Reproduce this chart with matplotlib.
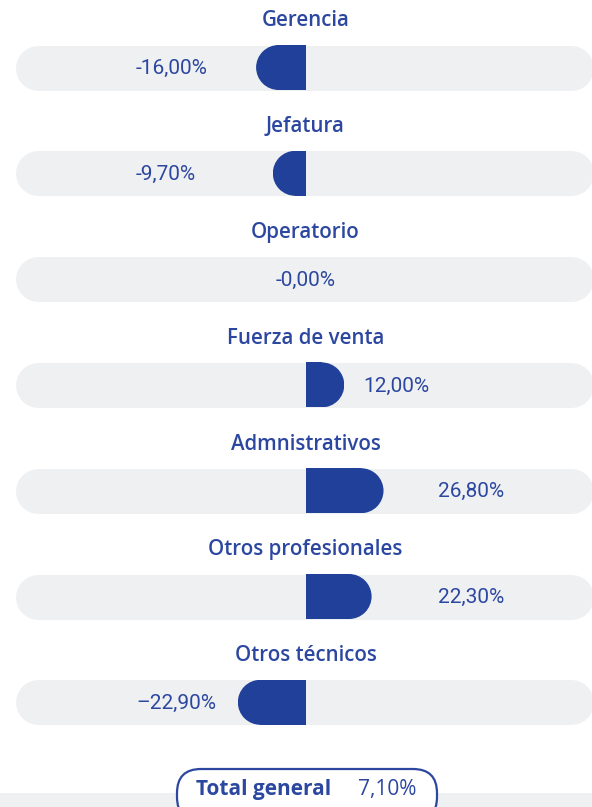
import matplotlib
matplotlib.use("Agg")
import matplotlib.pyplot as plt
from matplotlib.patches import Rectangle, Ellipse, FancyBboxPatch
from matplotlib.transforms import IdentityTransform

# Variación por categoría de puesto (%)
categories = ["Gerencia", "Jefatura", "Operatorio", "Fuerza de venta",
              "Admnistrativos", "Otros profesionales", "Otros técnicos"]
values = [-16.00, -9.70, -0.00, 12.00, 26.80, 22.30, -22.90]
value_labels = ["-16,00%", "-9,70%", "-0,00%", "12,00%", "26,80%", "22,30%", "\u201322,90%"]
total_label = "Total general"
total_value = "7,10%"

# Label anchor positions (in % units along the axis)
label_pos = [-64.0, -64.0, 0.0, 21.7, 50.0, 50.0, -64.0]

BLUE = "#20409a"
TEXT = "#2c47a0"
TRACK = "#eff0f2"

W, H, DPI = 592, 807, 100
PX_PER_UNIT = 2.65       # horizontal pixels per percentage point
CENTER_PX = 305.5
CAP = 7.0 / PX_PER_UNIT  # rounded end of each bar
ROW0, ROW_STEP = 67.5, 105.8
BAR_H = 45.0
R_UNITS = (BAR_H / 2) / PX_PER_UNIT

fig = plt.figure(figsize=(W / DPI, H / DPI), dpi=DPI)
ax = fig.add_axes([0, 0, 1, 1])
ax.set_xlim(-CENTER_PX / PX_PER_UNIT, (W - CENTER_PX) / PX_PER_UNIT)
ax.set_ylim(H, 0)
ax.axis("off")

title_font = ["Open Sans", "Roboto", "DejaVu Sans"]
num_font = ["Roboto", "DejaVu Sans"]

track_lw = BAR_H * 72 / DPI
x_left = (15 + BAR_H / 2 - CENTER_PX) / PX_PER_UNIT
x_right = (593 - BAR_H / 2 - CENTER_PX) / PX_PER_UNIT

for i, (cat, v, lab, lx) in enumerate(zip(categories, values, value_labels, label_pos)):
    yc = ROW0 + i * ROW_STEP
    # background track
    ax.plot([x_left, x_right], [yc, yc], color=TRACK, lw=track_lw,
            solid_capstyle="round", zorder=1)
    # bar with rounded outer end
    if v != 0:
        sgn = 1 if v > 0 else -1
        length = abs(v) + CAP
        flat = max(length - R_UNITS, 0)
        ax.add_patch(Rectangle((0, yc - BAR_H / 2), sgn * flat, BAR_H,
                               facecolor=BLUE, edgecolor="none", zorder=2))
        cap = Ellipse((sgn * flat, yc), 2 * R_UNITS, BAR_H,
                      facecolor=BLUE, edgecolor="none", zorder=2)
        ax.add_patch(cap)
        clip = Rectangle((0, yc - BAR_H / 2), sgn * length, BAR_H,
                         transform=ax.transData)
        cap.set_clip_path(clip)
    # category title
    ax.text(0, yc - 46.5, cat, ha="center", va="center", color=TEXT,
            fontsize=14.8, fontweight="semibold", family=title_font)
    # value label
    ha = "center" if v == 0 else "left"
    ax.text(lx, yc + 1, lab, ha=ha, va="center", color=TEXT,
            fontsize=15, family=num_font)

# bottom band and total pill
ax.add_patch(Rectangle((0, 0), 1, (H - 793) / H, transform=fig.transFigure,
                       facecolor=TRACK, edgecolor="none", zorder=1))
pill = FancyBboxPatch((177, -14), 260, 52,
                      boxstyle="round,pad=0,rounding_size=24",
                      transform=IdentityTransform(), facecolor="white",
                      edgecolor=TEXT, linewidth=1.6, zorder=3)
fig.patches.append(pill)
fig.text(196 / W, 1 - 790 / H, total_label, ha="left", va="center",
         color=TEXT, fontsize=15, fontweight="bold", family=title_font, zorder=4)
fig.text(358 / W, 1 - 790 / H, total_value, ha="left", va="center",
         color=TEXT, fontsize=15, family=title_font, zorder=4)

fig.savefig("out.png", dpi=DPI)
